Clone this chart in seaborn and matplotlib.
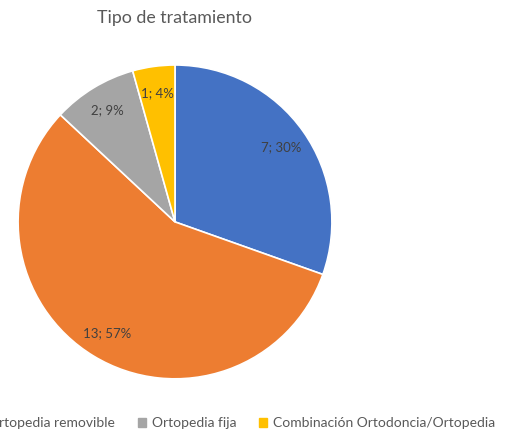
import matplotlib
matplotlib.use("Agg")
import matplotlib.pyplot as plt
import seaborn as sns

# Tipo de tratamiento
categorias = ["Ortodoncia", "Ortopedia removible", "Ortopedia fija",
              "Combinación Ortodoncia/Ortopedia"]
pacientes = [7, 13, 2, 1]
colores = ["#4472C4", "#ED7D31", "#A5A5A5", "#FFC000"]

sns.set_theme(style="white")
plt.rcParams["font.family"] = ["Lato", "DejaVu Sans"]

fig = plt.figure(figsize=(5.17, 4.33), dpi=100)
ax = fig.add_axes([0.035, 0.125, 0.607, 0.725])

total = sum(pacientes)
wedges, texts, autotexts = ax.pie(
    pacientes,
    colors=colores,
    startangle=90,
    counterclock=False,
    autopct=lambda p: f"{round(p * total / 100)}; {p:.0f}%",
    pctdistance=0.83,
    wedgeprops={"edgecolor": "white", "linewidth": 1.2},
    textprops={"color": "#404040", "fontsize": 9.5},
)
ax.set_xlim(-1, 1)
ax.set_ylim(-1, 1)
ax.set_aspect("equal")

fig.text(0.338, 0.958, "Tipo de tratamiento", ha="center", va="center",
         fontsize=12.8, color="#595959")

# legend runs off the left edge, as in the original export
handles = [plt.Rectangle((0, 0), 1, 1, color=c) for c in colores]
fig.legend(handles, categorias, loc="lower left", ncol=4,
           bbox_to_anchor=(-0.28, -0.02), frameon=False,
           fontsize=10, handlelength=0.6, handleheight=0.6,
           handletextpad=0.4, columnspacing=1.65,
           labelcolor="#595959")

fig.savefig("out.png", dpi=100)
